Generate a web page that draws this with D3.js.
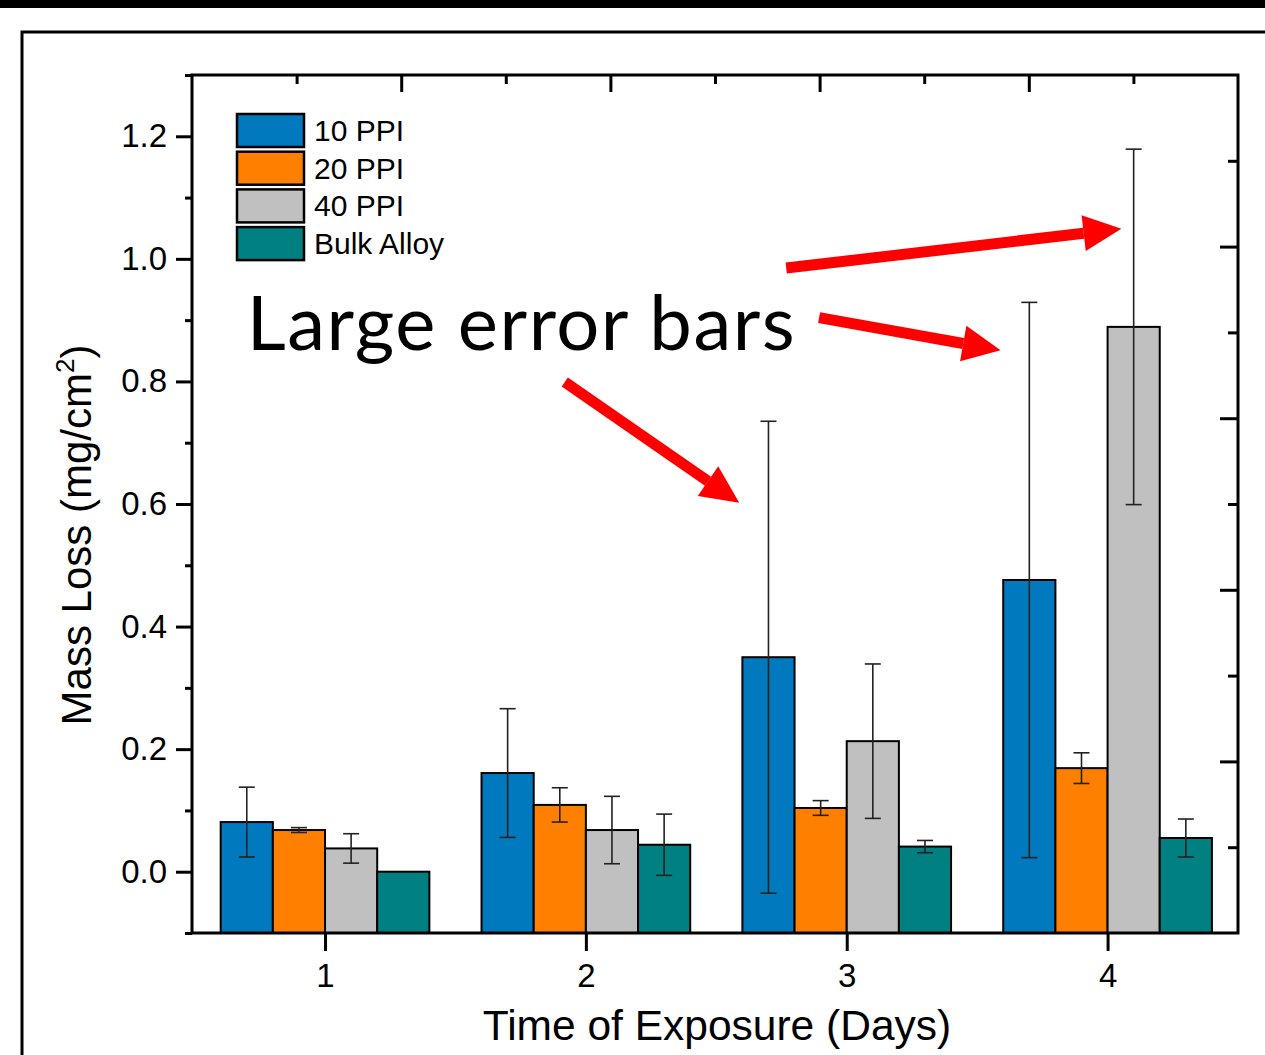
<!DOCTYPE html>
<html lang="en">
<head>
<meta charset="utf-8">
<title>Mass loss vs time of exposure</title>
<script src="https://cdn.jsdelivr.net/npm/d3@7"></script>
<style>
  body { margin: 0; background: #fff; }
  svg { display: block; }
  .axis text { font-family: "Liberation Sans", Arial, sans-serif; fill: #000; }
  .axis line { stroke: #000; stroke-width: 3; }
</style>
</head>
<body>
<div id="chart"></div>
<script>
// data
var days = [1, 2, 3, 4];
var seriesNames = ["10 PPI", "20 PPI", "40 PPI", "Bulk Alloy"];
var seriesColors = ["#0079bf", "#ff8000", "#c0c0c0", "#008080"];
var ppi10 = [0.081, 0.161, 0.350, 0.476];
var ppi20 = [0.068, 0.109, 0.104, 0.169];
var ppi40 = [0.038, 0.068, 0.213, 0.889];
var bulk = [0.000, 0.044, 0.041, 0.055];
var ppi10Err = [0.057, 0.105, 0.385, 0.453];
var ppi20Err = [0.004, 0.028, 0.012, 0.025];
var ppi40Err = [0.024, 0.055, 0.126, 0.290];
var bulkErr = [0.000, 0.050, 0.010, 0.031];
var yTicks = [0, 0.2, 0.4, 0.6, 0.8, 1.0, 1.2];
var yMinorTicks = [-0.1, 0.1, 0.3, 0.5, 0.7, 0.9, 1.1, 1.3];
var mirrorTicks = [1, 2, 3, 4];
var mirrorMinorTicks = [0.5, 1.5, 2.5, 3.5, 4.5];

// annotation: label and three arrows (tail -> tip, in data units)
var noteText = "Large error bars";
var notePos = {x: 0.70, y: 0.851};
var arrows = [
  {x1: 2.768, y1: 0.985, x2: 4.053, y2: 1.049},
  {x1: 2.894, y1: 0.904, x2: 3.590, y2: 0.851},
  {x1: 1.919, y1: 0.799, x2: 2.588, y2: 0.602}
];

var values = [ppi10, ppi20, ppi40, bulk];
var errors = [ppi10Err, ppi20Err, ppi40Err, bulkErr];

var W = 1265, H = 1055;
var margin = {top: 75, right: 27, bottom: 122, left: 192},
    width = W - margin.left - margin.right,
    height = H - margin.top - margin.bottom;

var svg = d3.select("#chart")
  .append("svg")
    .attr("width", W)
    .attr("height", H);

// black strip on top and the outer frame of the slide
svg.append("rect")
  .attr("x", 0).attr("y", 0)
  .attr("width", W).attr("height", 8)
  .attr("fill", "#000");
svg.append("rect")
  .attr("x", 22).attr("y", 32)
  .attr("width", W).attr("height", H)
  .attr("fill", "none")
  .attr("stroke", "#000")
  .attr("stroke-width", 3);

var g = svg.append("g")
  .attr("transform", "translate(" + margin.left + "," + margin.top + ")");

var x = d3.scaleLinear().domain([0.49, 4.5]).range([0, width]);
var y = d3.scaleLinear().domain([-0.1, 1.3]).range([height, 0]);
// the mirrored top/right axes carry their own 0..5 scales
var xTop = d3.scaleLinear().domain([0, 5]).range([0, width]);
var yRight = d3.scaleLinear().domain([0, 5]).range([height, 0]);

var barW = 0.2;

// bars
var rows = [];
values.forEach(function(vals, s) {
  vals.forEach(function(v, i) {
    rows.push({s: s, day: days[i], v: v, e: errors[s][i]});
  });
});

g.selectAll(".bar")
  .data(rows)
  .enter()
  .append("rect")
    .attr("class", "bar")
    .attr("x", function(d) { return x(d.day - 2 * barW + d.s * barW); })
    .attr("y", function(d) { return y(Math.max(d.v, -0.1)); })
    .attr("width", x(barW) - x(0))
    .attr("height", function(d) { return y(-0.1) - y(d.v); })
    .attr("fill", function(d) { return seriesColors[d.s]; })
    .attr("stroke", "#000")
    .attr("stroke-width", 2);

// error bars
var withErr = rows.filter(function(d) { return d.e > 0; });
var cap = 8;
var eb = g.selectAll(".err")
  .data(withErr)
  .enter()
  .append("g")
    .attr("class", "err")
    .attr("stroke", "#222")
    .attr("stroke-width", 1.6);
function cx(d) { return x(d.day - 2 * barW + d.s * barW + barW / 2); }
eb.append("line")
  .attr("x1", cx).attr("x2", cx)
  .attr("y1", function(d) { return y(d.v + d.e); })
  .attr("y2", function(d) { return y(d.v - d.e); });
eb.append("line")
  .attr("x1", function(d) { return cx(d) - cap; })
  .attr("x2", function(d) { return cx(d) + cap; })
  .attr("y1", function(d) { return y(d.v + d.e); })
  .attr("y2", function(d) { return y(d.v + d.e); });
eb.append("line")
  .attr("x1", function(d) { return cx(d) - cap; })
  .attr("x2", function(d) { return cx(d) + cap; })
  .attr("y1", function(d) { return y(d.v - d.e); })
  .attr("y2", function(d) { return y(d.v - d.e); });

// axes
g.append("g").attr("class", "axis")
  .call(d3.axisLeft(y).tickValues(yTicks).tickSize(16).tickPadding(9)
    .tickFormat(d3.format(".1f")))
  .call(function(a) { a.select(".domain").remove(); })
  .selectAll("text").style("font-size", "33px");
g.append("g").attr("class", "axis")
  .call(d3.axisLeft(y).tickValues(yMinorTicks).tickSize(7).tickFormat(""))
  .call(function(a) { a.select(".domain").remove(); });

g.append("g").attr("class", "axis")
  .attr("transform", "translate(0," + height + ")")
  .call(d3.axisBottom(x).tickValues(days).tickSize(18).tickPadding(13)
    .tickFormat(d3.format("d")))
  .call(function(a) { a.select(".domain").remove(); })
  .selectAll("text").style("font-size", "33px");

g.append("g").attr("class", "axis")
  .call(d3.axisTop(xTop).tickValues(mirrorTicks).tickSize(-17).tickFormat(""))
  .call(function(a) { a.select(".domain").remove(); });
g.append("g").attr("class", "axis")
  .call(d3.axisTop(xTop).tickValues(mirrorMinorTicks).tickSize(-9).tickFormat(""))
  .call(function(a) { a.select(".domain").remove(); });

g.append("g").attr("class", "axis")
  .attr("transform", "translate(" + width + ",0)")
  .call(d3.axisRight(yRight).tickValues(mirrorTicks).tickSize(-18).tickFormat(""))
  .call(function(a) { a.select(".domain").remove(); });
g.append("g").attr("class", "axis")
  .attr("transform", "translate(" + width + ",0)")
  .call(d3.axisRight(yRight).tickValues(mirrorMinorTicks).tickSize(-10).tickFormat(""))
  .call(function(a) { a.select(".domain").remove(); });

// plot frame
g.append("rect")
  .attr("width", width)
  .attr("height", height)
  .attr("fill", "none")
  .attr("stroke", "#000")
  .attr("stroke-width", 3);

// axis titles
g.append("text")
  .attr("x", (x(0.49) + x(4.5)) / 2 + 2)
  .attr("y", height + 107)
  .attr("text-anchor", "middle")
  .style("font-family", "Liberation Sans, Arial, sans-serif")
  .style("font-size", "42.5px")
  .text("Time of Exposure (Days)");

var yt = g.append("text")
  .attr("transform", "translate(-101," + (height / 2 + 31) + ") rotate(-90)")
  .attr("text-anchor", "middle")
  .style("font-family", "Liberation Sans, Arial, sans-serif")
  .style("font-size", "42px");
yt.append("tspan").text("Mass Loss (mg/cm");
yt.append("tspan").attr("dy", -17).style("font-size", "26px").text("2");
yt.append("tspan").attr("dy", 17).text(")");

// legend
var legend = g.append("g").attr("transform", "translate(45,39)");
var li = legend.selectAll(".li")
  .data(seriesNames)
  .enter()
  .append("g")
    .attr("transform", function(d, i) { return "translate(0," + (i * 37.7) + ")"; });
li.append("rect")
  .attr("width", 67).attr("height", 33)
  .attr("fill", function(d, i) { return seriesColors[i]; })
  .attr("stroke", "#000")
  .attr("stroke-width", 2.5);
li.append("text")
  .attr("x", 77).attr("y", 27)
  .style("font-family", "Liberation Sans, Arial, sans-serif")
  .style("font-size", "30px")
  .text(function(d) { return d; });

// annotation
g.append("text")
  .attr("x", x(notePos.x))
  .attr("y", y(notePos.y))
  .style("font-family", "Lato, 'Open Sans', sans-serif")
  .style("font-size", "76px")
  .style("letter-spacing", "1.5px")
  .text(noteText);

var headLen = 38, headHalf = 18, shaft = 11;
arrows.forEach(function(a) {
  var x1 = x(a.x1), y1 = y(a.y1), x2 = x(a.x2), y2 = y(a.y2);
  var ang = Math.atan2(y2 - y1, x2 - x1);
  var bx = x2 - headLen * Math.cos(ang), by = y2 - headLen * Math.sin(ang);
  g.append("line")
    .attr("x1", x1).attr("y1", y1)
    .attr("x2", bx).attr("y2", by)
    .attr("stroke", "#ff0000")
    .attr("stroke-width", shaft);
  var px = -Math.sin(ang), py = Math.cos(ang);
  g.append("path")
    .attr("d", "M" + x2 + "," + y2 +
      "L" + (bx + px * headHalf) + "," + (by + py * headHalf) +
      "L" + (bx - px * headHalf) + "," + (by - py * headHalf) + "Z")
    .attr("fill", "#ff0000");
});
</script>
</body>
</html>
